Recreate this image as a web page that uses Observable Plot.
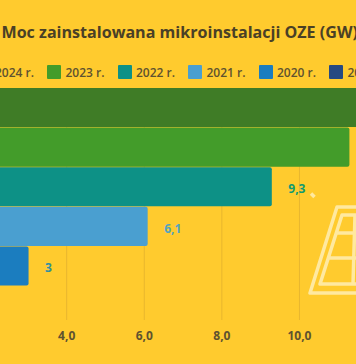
<!DOCTYPE html>
<html><head><meta charset="utf-8">
<script src="https://cdn.jsdelivr.net/npm/d3@7"></script>
<script src="https://cdn.jsdelivr.net/npm/@observablehq/plot@0.6"></script>
<style>
html,body{margin:0;padding:0;background:#FFCB2E;width:356px;height:364px;overflow:hidden;font-family:"Open Sans",sans-serif}
#wrap{position:relative;width:356px;height:364px;overflow:hidden}
#title{position:absolute;left:1.5px;top:21px;font-size:16.08px;font-weight:700;color:#4A4026;white-space:nowrap;line-height:22px}
#legend{position:absolute;left:0;top:64px;height:16px;width:356px}
#legend .sw{position:absolute;top:1px;width:14px;height:14px;border-radius:1px}
#legend .lb{position:absolute;top:1px;font-size:12px;font-weight:600;color:#5E5230;white-space:nowrap;line-height:16px}
#chart{position:absolute;left:0;top:88px}
#icon{position:absolute;left:0;top:0}
</style></head><body>
<div id="wrap">
<div id="title">Moc zainstalowana mikroinstalacji OZE (GW)</div>
<div id="legend"></div>
<div id="chart"></div>
<svg id="icon" width="356" height="364" fill="none" stroke="#FFE9A0" stroke-width="3.5" stroke-linejoin="round">
<path d="M311 193.5l3.5 3.5"/>
<path d="M360 207H337L310 293H360"/>
<path d="M360 215H342L320 284H360M336 233H360M329 258H360M355 215L353 284"/>
</svg>
</div>
<script>
const years = ["2024 r.","2023 r.","2022 r.","2021 r.","2020 r."];
const values = [13.0,11.3,9.3,6.1,3.03];
const valueLabels = ["13","11,3","9,3","6,1","3"];
const colors = ["#3F7C26","#439C2A","#0D9186","#4A9FD0","#1B7DBF"];
const labelColors = ["#3F7C26","#439C2A","#109A70","#55A3BE","#2F8FA0"];
const legendYears = ["2024 r.","2023 r.","2022 r.","2021 r.","2020 r.","2019 r."];
const legendColors = ["#3F7C26","#439C2A","#0D9186","#4A9FD0","#1B7DBF","#264A82"];
const ticks = [4,6,8,10];

const legend = document.getElementById("legend");
legendYears.forEach((t,i)=>{
  const x = -23.5 + i*70.5;
  const s = document.createElement("div"); s.className="sw"; s.style.left=x+"px"; s.style.background=legendColors[i];
  const l = document.createElement("div"); l.className="lb"; l.style.left=(x+18.5)+"px"; l.textContent=t;
  legend.append(s,l);
});

const rows = years.map((y,i)=>({year:y,value:values[i],label:valueLabels[i],color:colors[i],labelColor:labelColors[i]}));
const comma = d => d3.format(".1f")(d).replace(".",",");
const fig = Plot.plot({
  width:356,height:276,
  marginTop:0,marginRight:0,marginBottom:44,marginLeft:0,
  style:{background:"transparent",fontFamily:"'Open Sans',sans-serif"},
  x:{domain:[2.294,11.47],range:[0,356],label:null},
  y:{domain:years,range:[0,197.5],paddingInner:0.015,paddingOuter:0,round:false,axis:null},
  marks:[
    Plot.ruleX(ticks,{x:d=>d,stroke:"#E8B62E",strokeWidth:1}),
    Plot.barX(rows,{x1:0,x2:"value",y:"year",fill:"color",rx:2,clip:true}),
    Plot.text(rows,{x:"value",y:"year",text:"label",dx:16,dy:2,fill:"labelColor",fontWeight:700,fontSize:12,textAnchor:"start",clip:true}),
    Plot.axisX({ticks,tickFormat:comma,tickSize:0,tickPadding:11,fontSize:12,fontWeight:700,fill:"#5E5230",label:null})
  ]
});
document.getElementById("chart").append(fig);
</script>
</body></html>
